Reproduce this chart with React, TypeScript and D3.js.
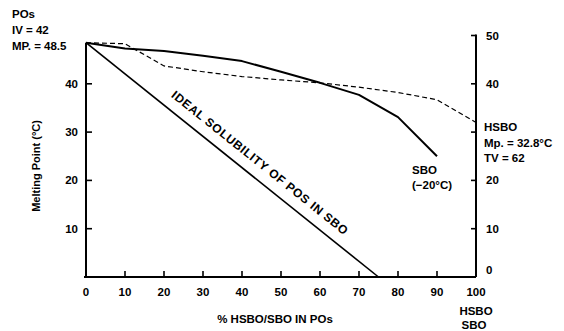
import React, { useEffect, useRef } from 'react';
import * as d3 from 'd3';

// % HSBO / SBO in POs
const sboPct = [0, 10, 20, 30, 40, 50, 60, 70, 80, 90];
const sboMp = [48.5, 47.3, 46.8, 45.8, 44.7, 42.5, 40.2, 37.7, 33.1, 25.0];

const hsboPct = [0, 10, 20, 30, 40, 50, 60, 70, 80, 90, 100];
const hsboMp = [48.5, 48.3, 43.7, 42.5, 41.5, 40.8, 40.2, 39.3, 38.2, 36.7, 32.0];

const idealPct = [0, 75];
const idealMp = [48.5, 0];

const xTicks = [0, 10, 20, 30, 40, 50, 60, 70, 80, 90, 100];
const leftTicks = [10, 20, 30, 40];
const rightTicks = [0, 10, 20, 30, 40, 50];
const rightTickLabels = ['0', '10', '20', '', '40', '50'];

const posLabel = ['POs', 'IV = 42', 'MP. = 48.5'];
const hsboLabel = ['HSBO', 'Mp. = 32.8°C', 'TV = 62'];
const sboLabel = ['SBO', '(\u221220°C)'];

const W = 564;
const H = 331;
const FONT = '"Liberation Sans", Arial, sans-serif';

const App = () => {
  const ref = useRef<SVGSVGElement>(null);

  useEffect(() => {
    const svg = d3.select(ref.current);
    svg.selectAll('*').remove();

    const x = d3.scaleLinear().domain([0, 100]).range([86, 476]);
    const y = d3.scaleLinear().domain([0, 50]).range([277, 35.5]);

    const txt = (sel, s, px, py, anchor = 'start', size = 11.5) =>
      sel.append('text')
        .attr('x', px)
        .attr('y', py)
        .attr('text-anchor', anchor)
        .attr('font-family', FONT)
        .attr('font-weight', 'bold')
        .attr('font-size', size)
        .attr('fill', '#000')
        .text(s);

    // axes
    const axes = svg.append('g').attr('stroke', '#000').attr('fill', 'none');
    axes.append('line')
      .attr('x1', x(0) - 2).attr('x2', x(100))
      .attr('y1', y(0)).attr('y2', y(0))
      .attr('stroke-width', 2);
    axes.append('line')
      .attr('x1', x(0)).attr('x2', x(0))
      .attr('y1', y(0)).attr('y2', y(48.5))
      .attr('stroke-width', 2);
    axes.append('line')
      .attr('x1', x(100)).attr('x2', x(100))
      .attr('y1', y(0)).attr('y2', y(50) - 1)
      .attr('stroke-width', 2);

    xTicks.slice(1, -1).forEach(t => {
      axes.append('line')
        .attr('x1', x(t)).attr('x2', x(t))
        .attr('y1', y(0)).attr('y2', y(0) - 6)
        .attr('stroke-width', 1.6);
    });
    leftTicks.forEach(t => {
      axes.append('line')
        .attr('x1', x(0)).attr('x2', x(0) + 6)
        .attr('y1', y(t)).attr('y2', y(t))
        .attr('stroke-width', 1.6);
    });
    rightTicks.slice(1).forEach(t => {
      axes.append('line')
        .attr('x1', x(100)).attr('x2', x(100) - 5)
        .attr('y1', y(t)).attr('y2', y(t))
        .attr('stroke-width', 1.6);
    });

    // tick labels
    xTicks.forEach(t => txt(svg, String(t), x(t), 296, 'middle'));
    leftTicks.forEach(t => txt(svg, String(t), x(0) - 8, y(t) + 4, 'end'));
    rightTicks.forEach((t, i) =>
      txt(svg, rightTickLabels[i], x(100) + 10, y(t) + (t === 0 ? -3 : 4)));

    // axis titles
    txt(svg, '% HSBO/SBO IN POs', x(50) - 6, 323, 'middle');
    txt(svg, 'HSBO', x(100), 315, 'middle');
    txt(svg, 'SBO', x(100) - 2, 329, 'middle');
    txt(svg, 'Melting Point (°C)', 0, 0, 'middle', 11)
      .attr('transform', `translate(40,${y(23)}) rotate(-90)`);

    // lines
    const line = d3.line<[number, number]>()
      .x(d => x(d[0]))
      .y(d => y(d[1]));

    svg.append('path')
      .datum(d3.zip(idealPct, idealMp) as [number, number][])
      .attr('fill', 'none')
      .attr('stroke', '#000')
      .attr('stroke-width', 1.6)
      .attr('d', line);

    svg.append('path')
      .datum(d3.zip(hsboPct, hsboMp) as [number, number][])
      .attr('fill', 'none')
      .attr('stroke', '#000')
      .attr('stroke-width', 1.2)
      .attr('stroke-dasharray', '5,3')
      .attr('d', line);

    svg.append('path')
      .datum(d3.zip(sboPct, sboMp) as [number, number][])
      .attr('fill', 'none')
      .attr('stroke', '#000')
      .attr('stroke-width', 2)
      .attr('stroke-linejoin', 'round')
      .attr('d', line);

    // ideal solubility label along the line
    const ang = Math.atan2(y(0) - y(48.5), x(75) - x(0)) * 180 / Math.PI;
    const mx = x(37.5) + 25;
    const my = y(24.25) + 6;
    txt(svg, 'IDEAL SOLUBILITY OF POS IN SBO', 0, 0, 'middle', 12)
      .attr('textLength', 222)
      .attr('transform', `translate(${mx},${my}) rotate(${ang})`);

    // annotations
    posLabel.forEach((s, i) => txt(svg, s, 12, 18 + i * 16));
    hsboLabel.forEach((s, i) => txt(svg, s, x(100) + 8, y(30) - 1 + i * 15.5));
    sboLabel.forEach((s, i) => txt(svg, s, x(90) - 25, y(25) + 18 + i * 14.5));
  }, []);

  return (
    <svg
      ref={ref}
      width={W}
      height={H}
      style={{ position: 'absolute', left: 0, top: 0, background: '#fff' }}
    />
  );
};

export default App;
